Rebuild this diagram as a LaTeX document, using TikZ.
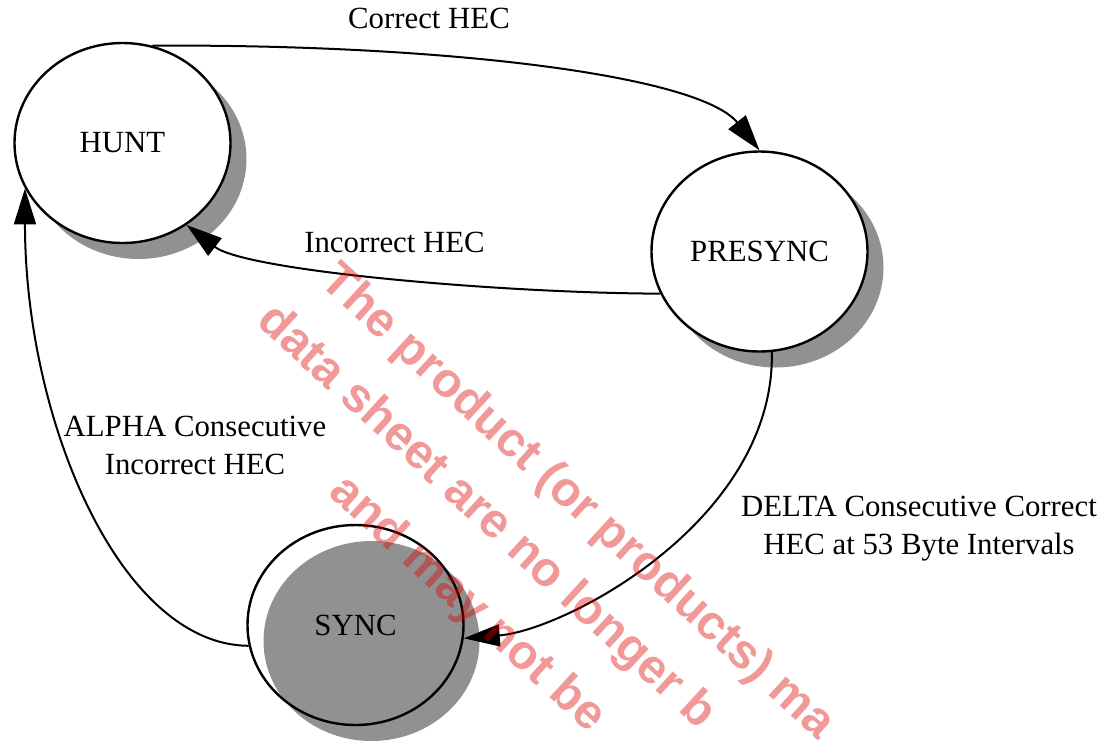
\documentclass[tikz,border=0pt]{standalone}
\usepackage{fontspec}
\setmainfont{Liberation Serif}
\newfontfamily\markfont{Liberation Sans Bold}
\usetikzlibrary{shapes.geometric,shadows,arrows.meta}
\definecolor{shadowgray}{RGB}{145,145,145}
\definecolor{markred}{RGB}{220,0,0}

\begin{document}
\begin{tikzpicture}[x=0.5pt,y=-0.5pt,
        every node/.style={font=\fontsize{15.4}{19}\selectfont},
        state/.style={ellipse,draw,line width=1.2pt,fill=white,inner sep=0pt,
                minimum width=108pt,minimum height=100pt,
                drop shadow={shadow xshift=8pt,shadow yshift=-8pt,fill=shadowgray,opacity=1}},
        trans/.style={line width=1pt,-{Triangle[length=18pt,width=11pt]}},
        lbl/.style={align=center,inner sep=0pt},
        wmark/.style={font=\markfont\fontsize{24.2}{29}\selectfont,text=markred,
                text opacity=0.4,rotate=-42.5,anchor=base west,inner sep=0pt}]
        \useasboundingbox (0,0) rectangle (1106,740);

        % 三个状态
        \node[state] (hunt) at (122.5,143) {HUNT};
        \node[state] (presync) at (759.5,251.5) {PRESYNC};
        \node[state,fill=none] (sync) at (355.5,625) {SYNC};

        % 状态转移
        \draw[trans](hunt.73)..controls(450,44)and(700,76)..(presync.north);
        \draw[trans](presync.203)..controls(500,293)and(246,271)..(hunt.-52);
        \draw[trans](presync.-83)..controls(775,520)and(566,630)..(sync.-7);
        \draw[trans](sync.191)..controls(120,645)and(25,420)..(hunt.205);

        % 标注
        \node[lbl] (correct) at (429,18) {Correct HEC};
        \node[lbl] (incorrect) at (394.5,242) {Incorrect HEC};
        \node[lbl] (alpha) at (195,445) {ALPHA Consecutive\\Incorrect HEC};
        \node[lbl] (delta) at (919,529) {DELTA Consecutive Correct\\HEC at 53 Byte Intervals};

        % 水印
        \begin{scope}
        \clip (0,0) rectangle (1106,740);
        \node[wmark] (wm1) at (318,283) {The product (or products) ma};
        \node[wmark] (wm2) at (255,323) {data sheet are no longer b};
        \node[wmark] (wm3) at (327,494) {and may not be};
        \end{scope}
    \end{tikzpicture}
\end{document}
